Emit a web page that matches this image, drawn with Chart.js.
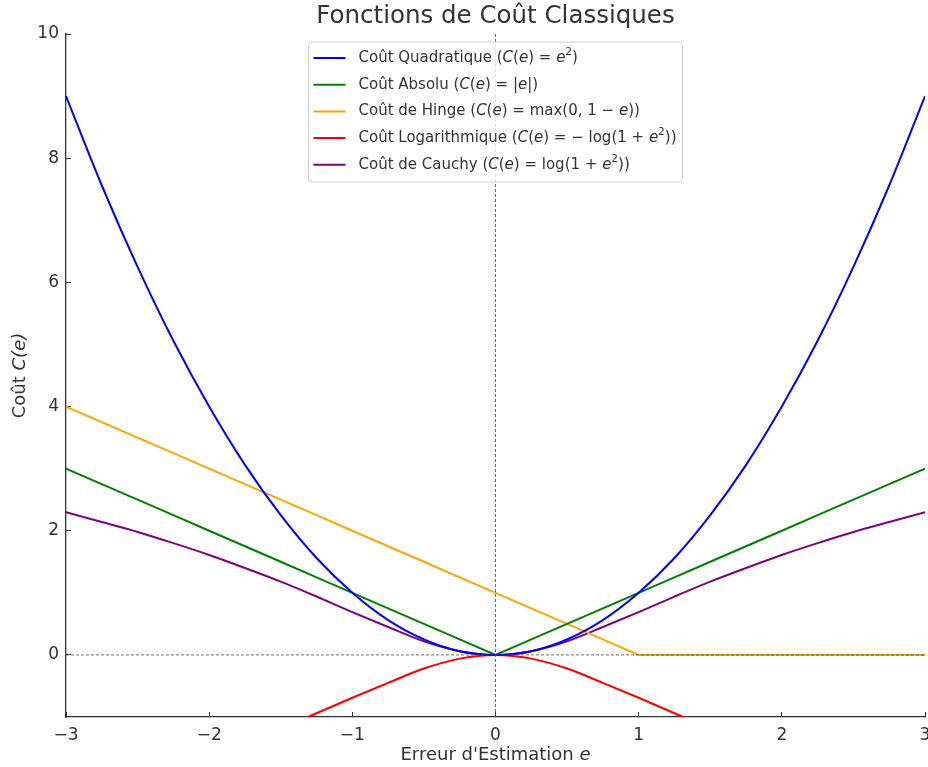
<!DOCTYPE html>
<html lang="fr">
<head>
<meta charset="UTF-8">
<title>Fonctions de Coût Classiques</title>
<script src="https://cdn.jsdelivr.net/npm/chart.js"></script>
<style>
    html, body { margin: 0; padding: 0; background: #fff; }
</style>
</head>
<body>
<canvas id="costChart" width="928" height="767"></canvas>
<script>
// values
const errors    = [-3, -2.75, -2.5, -2.25, -2, -1.75, -1.5, -1.25, -1, -0.75, -0.5, -0.25, 0, 0.25, 0.5, 0.75, 1, 1.25, 1.5, 1.75, 2, 2.25, 2.5, 2.75, 3];
const quadratic = [9, 7.56, 6.25, 5.06, 4, 3.06, 2.25, 1.56, 1, 0.56, 0.25, 0.06, 0, 0.06, 0.25, 0.56, 1, 1.56, 2.25, 3.06, 4, 5.06, 6.25, 7.56, 9];
const absolute  = [3, 2.75, 2.5, 2.25, 2, 1.75, 1.5, 1.25, 1, 0.75, 0.5, 0.25, 0, 0.25, 0.5, 0.75, 1, 1.25, 1.5, 1.75, 2, 2.25, 2.5, 2.75, 3];
const hinge     = [4, 3.75, 3.5, 3.25, 3, 2.75, 2.5, 2.25, 2, 1.75, 1.5, 1.25, 1, 0.75, 0.5, 0.25, 0, 0, 0, 0, 0, 0, 0, 0, 0];
const logCost   = [-2.3, -2.14, -1.98, -1.8, -1.61, -1.4, -1.18, -0.94, -0.69, -0.45, -0.22, -0.06, 0, -0.06, -0.22, -0.45, -0.69, -0.94, -1.18, -1.4, -1.61, -1.8, -1.98, -2.14, -2.3];
const cauchy    = [2.3, 2.14, 1.98, 1.8, 1.61, 1.4, 1.18, 0.94, 0.69, 0.45, 0.22, 0.06, 0, 0.06, 0.22, 0.45, 0.69, 0.94, 1.18, 1.4, 1.61, 1.8, 1.98, 2.14, 2.3];
const xTicks = [-3, -2, -1, 0, 1, 2, 3];
const yTicks = [0, 2, 4, 6, 8, 10];

// legend labels: [text, style] with '' upright, 'i' italic, 's' superscript
const labels = [
    [['Coût Quadratique (', ''], ['C', 'i'], ['(', ''], ['e', 'i'], [') = ', ''], ['e', 'i'], ['2', 's'], [')', '']],
    [['Coût Absolu (', ''], ['C', 'i'], ['(', ''], ['e', 'i'], [') = |', ''], ['e', 'i'], ['|)', '']],
    [['Coût de Hinge (', ''], ['C', 'i'], ['(', ''], ['e', 'i'], [') = max(0, 1 − ', ''], ['e', 'i'], ['))', '']],
    [['Coût Logarithmique (', ''], ['C', 'i'], ['(', ''], ['e', 'i'], [') = − log(1 + ', ''], ['e', 'i'], ['2', 's'], ['))', '']],
    [['Coût de Cauchy (', ''], ['C', 'i'], ['(', ''], ['e', 'i'], [') = log(1 + ', ''], ['e', 'i'], ['2', 's'], ['))', '']]
];
const colors = ['#0000ff', '#008000', '#ffa500', '#ff0000', '#800080'];

const FAMILY = '"DejaVu Sans", sans-serif';
const TEXT = '#333333';

function pts(ys) {
    return errors.map((x, i) => ({ x: x, y: ys[i] }));
}

function curve(data, color, straight) {
    return {
        data: pts(data),
        borderColor: color,
        borderWidth: 2,
        pointRadius: 0,
        fill: false,
        tension: 0,
        cubicInterpolationMode: straight ? 'default' : 'monotone',
        order: 1
    };
}

function dashed(data) {
    return {
        data: data,
        borderColor: '#444444',
        borderWidth: 0.8,
        borderDash: [3, 2],
        pointRadius: 0,
        fill: false,
        order: 0
    };
}

// draws mixed upright / italic / superscript text, returns width
function drawRich(ctx, parts, x, y, size, align, measureOnly) {
    const pieces = parts.map(([t, s]) => {
        const sz = s === 's' ? size * 0.7 : size;
        const font = (s === 'i' ? 'italic ' : '') + sz + 'px ' + FAMILY;
        ctx.font = font;
        return { t: t, s: s, font: font, w: ctx.measureText(t).width };
    });
    const total = pieces.reduce((a, p) => a + p.w, 0);
    if (measureOnly) return total;
    let cx = align === 'center' ? x - total / 2 : x;
    ctx.textAlign = 'left';
    ctx.textBaseline = 'middle';
    pieces.forEach(p => {
        ctx.font = p.font;
        ctx.fillText(p.t, cx, p.s === 's' ? y - size * 0.38 : y);
        cx += p.w;
    });
    return total;
}

const decorations = {
    id: 'decorations',
    afterDatasetsDraw(chart) {
        const { ctx, chartArea } = chart;
        const size = 15, rowH = 26.7;
        ctx.save();
        // legend box
        const widths = labels.map(l => drawRich(ctx, l, 0, 0, size, 'left', true));
        const textW = Math.max(...widths);
        const boxW = 5 + 32 + 13 + textW + 6;
        const boxH = 140;
        const cx = (chartArea.left + chartArea.right) / 2;
        const left = cx - boxW / 2;
        const top = chartArea.top + 8;
        ctx.beginPath();
        ctx.roundRect(left, top, boxW, boxH, 4);
        ctx.fillStyle = 'rgba(255,255,255,0.8)';
        ctx.fill();
        ctx.strokeStyle = '#cccccc';
        ctx.lineWidth = 1;
        ctx.stroke();
        labels.forEach((l, i) => {
            const y = top + 16 + i * rowH;
            ctx.beginPath();
            ctx.moveTo(left + 5, y);
            ctx.lineTo(left + 37, y);
            ctx.strokeStyle = colors[i];
            ctx.lineWidth = 2;
            ctx.stroke();
            ctx.fillStyle = TEXT;
            drawRich(ctx, l, left + 50, y, size, 'left');
        });
        ctx.restore();
    },
    afterDraw(chart) {
        const { ctx, chartArea } = chart;
        const cx = (chartArea.left + chartArea.right) / 2;
        const cy = (chartArea.top + chartArea.bottom) / 2;
        ctx.save();
        ctx.fillStyle = TEXT;
        ctx.textAlign = 'center';
        ctx.textBaseline = 'middle';
        ctx.font = '24.5px ' + FAMILY;
        ctx.fillText('Fonctions de Coût Classiques', cx, 17);
        drawRich(ctx, [["Erreur d'Estimation ", ''], ['e', 'i']], cx, 755, 18, 'center');
        ctx.translate(20, cy);
        ctx.rotate(-Math.PI / 2);
        drawRich(ctx, [['Coût ', ''], ['C', 'i'], ['(', 'i'], ['e', 'i'], [')', 'i']], 0, 0, 18, 'center');
        ctx.restore();
    }
};

const ctx = document.getElementById('costChart').getContext('2d');
const costChart = new Chart(ctx, {
    type: 'line',
    data: {
        datasets: [
            dashed([{ x: -3, y: 0 }, { x: 3, y: 0 }]),
            dashed([{ x: 0, y: -1 }, { x: 0, y: 10 }]),
            curve(quadratic, colors[0], false),
            curve(absolute, colors[1], true),
            curve(hinge, colors[2], true),
            curve(logCost, colors[3], false),
            curve(cauchy, colors[4], false)
        ]
    },
    options: {
        responsive: false,
        animation: false,
        devicePixelRatio: 1,
        layout: { padding: { top: 34, right: 3, left: 0, bottom: 0 } },
        plugins: {
            legend: { display: false },
            title: { display: false },
            tooltip: { enabled: false }
        },
        scales: {
            x: {
                type: 'linear',
                min: -3,
                max: 3,
                afterBuildTicks: s => { s.ticks = xTicks.map(v => ({ value: v })); },
                afterFit: s => { s.height = 50; s.paddingLeft = 0; s.paddingRight = 0; },
                // negative length draws the tick marks inward, like the reference
                grid: { drawOnChartArea: false, drawTicks: true, tickLength: -5, color: '#333333' },
                border: { display: true, color: '#333333', width: 1.3 },
                ticks: {
                    color: TEXT,
                    padding: 13,
                    maxRotation: 0,
                    font: { family: FAMILY, size: 17 },
                    callback: v => String(v).replace('-', '\u2212')
                }
            },
            y: {
                type: 'linear',
                min: -1,
                max: 10,
                afterBuildTicks: s => { s.ticks = yTicks.map(v => ({ value: v })); },
                afterFit: s => { s.width = 66; s.paddingTop = 0; s.paddingBottom = 0; },
                grid: { drawOnChartArea: false, drawTicks: true, tickLength: -5, color: '#333333' },
                border: { display: true, color: '#333333', width: 1.3 },
                ticks: {
                    color: TEXT,
                    padding: 12,
                    font: { family: FAMILY, size: 17 },
                    callback: v => String(v).replace('-', '\u2212')
                }
            }
        }
    },
    plugins: [decorations]
});
</script>
</body>
</html>
